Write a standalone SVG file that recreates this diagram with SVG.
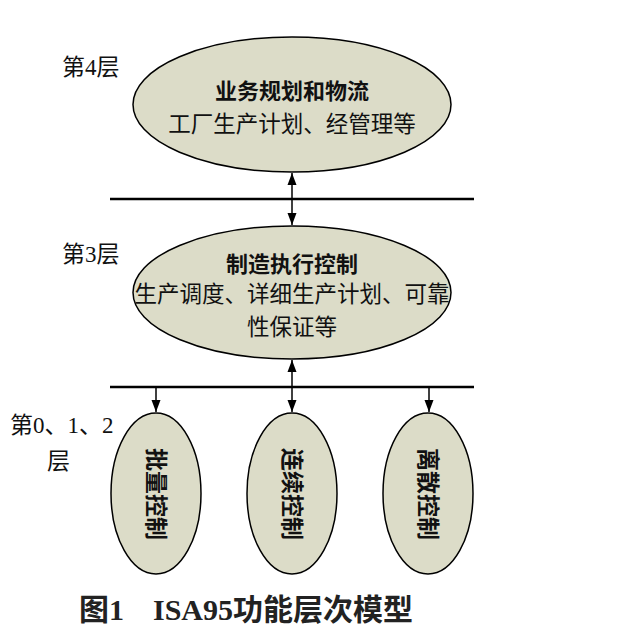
<svg xmlns="http://www.w3.org/2000/svg" width="633" height="629" viewBox="0 0 633 629">
<style>
.node{fill:#dcdcc8;stroke:#000;stroke-width:1.5}
.t{font-family:"Noto Sans CJK SC",sans-serif;font-size:22.5px;fill:#111;text-anchor:middle}
.b{font-weight:bold;font-size:22px}
.v{font-weight:bold;font-size:23px}
.lab{font-family:"Liberation Serif","Noto Sans CJK SC",serif;font-size:23px;fill:#111}
.bus{stroke:#000;stroke-width:2.5;fill:none}
.arr{stroke:#000;stroke-width:1.5;fill:none}
</style>
<defs>
<marker id="ah" viewBox="0 0 12 10" refX="12" refY="5" markerWidth="12" markerHeight="10" markerUnits="userSpaceOnUse" orient="auto-start-reverse">
<path d="M0,0.5 L12,5 L0,9.5 z" fill="#000"/>
</marker>
</defs>
<rect width="633" height="629" fill="#fff"/>
<g id="labels">
<text class="lab" x="62" y="75">第4层</text>
<text class="lab" x="62" y="262">第3层</text>
<text class="lab" x="10" y="433">第0、1、2</text>
<text class="lab" x="47" y="469">层</text>
</g>
<g id="connectors">
<line class="bus" x1="110" y1="199" x2="474" y2="199"/>
<line class="bus" x1="110" y1="387" x2="474" y2="387"/>
<line class="arr" x1="292" y1="173" x2="292" y2="225" marker-start="url(#ah)" marker-end="url(#ah)"/>
<line class="arr" x1="292" y1="360" x2="292" y2="412" marker-start="url(#ah)" marker-end="url(#ah)"/>
<line class="arr" x1="156" y1="387" x2="156" y2="412" marker-end="url(#ah)"/>
<line class="arr" x1="429" y1="387" x2="429" y2="412" marker-end="url(#ah)"/>
</g>
<g id="level4">
<ellipse class="node" cx="292" cy="104.5" rx="159" ry="67.5"/>
<text class="t b" x="292" y="99">业务规划和物流</text>
<text class="t" x="292" y="132">工厂生产计划、经管理等</text>
</g>
<g id="level3">
<ellipse class="node" cx="292" cy="292.5" rx="159" ry="66.5"/>
<text class="t b" x="292" y="272">制造执行控制</text>
<text class="t" x="292" y="302">生产调度、详细生产计划、可靠</text>
<text class="t" x="292" y="335">性保证等</text>
</g>
<g id="batch">
<ellipse class="node" cx="156" cy="493.5" rx="45" ry="80.5"/>
<text class="t v" transform="translate(156,494) rotate(90)" x="0" y="8">批量控制</text>
</g>
<g id="continuous">
<ellipse class="node" cx="292" cy="493.5" rx="45" ry="80.5"/>
<text class="t v" transform="translate(292,494) rotate(90)" x="0" y="8">连续控制</text>
</g>
<g id="discrete">
<ellipse class="node" cx="428" cy="493.5" rx="45" ry="80.5"/>
<text class="t v" transform="translate(428,494) rotate(90)" x="0" y="8">离散控制</text>
</g>
<g id="caption">
<text x="79" y="620" font-family="'Liberation Serif','Noto Sans CJK SC',serif" font-size="30" font-weight="bold" fill="#222">图1<tspan x="153">ISA95</tspan><tspan font-family="'Noto Sans CJK SC',sans-serif" font-weight="bold">功能层次模型</tspan></text>
</g>
</svg>
